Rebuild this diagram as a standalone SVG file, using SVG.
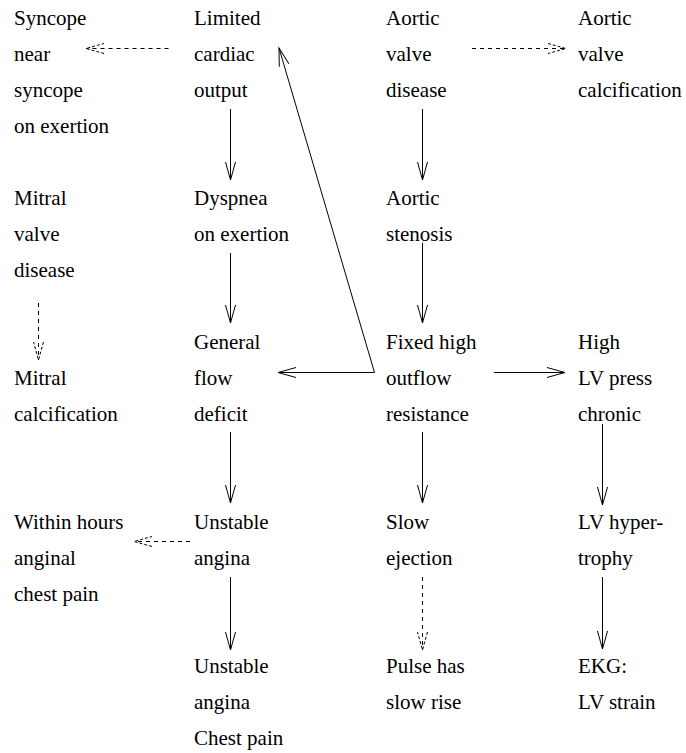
<svg xmlns="http://www.w3.org/2000/svg" width="686" height="753" viewBox="0 0 686 753">
<defs>
<style>
.c{fill:none;stroke:#000;stroke-width:1}
.d{stroke-dasharray:4,4}
</style>
<marker id="ah" markerUnits="userSpaceOnUse" viewBox="-20 -7 22 14" markerWidth="22" markerHeight="14" refX="0" refY="0" orient="auto">
<path d="M-18,-5 L0,0 L-18,5" fill="none" stroke="#000" stroke-width="1"/>
</marker>
<marker id="ahd" markerUnits="userSpaceOnUse" viewBox="-20 -7 22 14" markerWidth="22" markerHeight="14" refX="0" refY="0" orient="auto">
<path d="M-18,-5 L0,0 L-18,5" fill="none" stroke="#000" stroke-width="1" stroke-dasharray="3,2"/>
</marker>
</defs>
<rect width="686" height="753" fill="#fff"/>
<g id="connectors">
<path class="c d" d="M168.5,48.5 H86" marker-end="url(#ahd)"/>
<path class="c d" d="M472,48.5 H566" marker-end="url(#ahd)"/>
<path class="c" d="M230.5,109 V180" marker-end="url(#ah)"/>
<path class="c" d="M422.5,109 V180" marker-end="url(#ah)"/>
<path class="c" d="M230.5,253 V323" marker-end="url(#ah)"/>
<path class="c" d="M422.5,243 V323" marker-end="url(#ah)"/>
<path class="c d" d="M38.5,303 V360" marker-end="url(#ahd)"/>
<path class="c" d="M374.5,372.5 H278" marker-end="url(#ah)"/>
<path class="c" d="M374.5,372.5 L279,48" marker-end="url(#ah)"/>
<path class="c" d="M494,372.5 H565" marker-end="url(#ah)"/>
<path class="c" d="M230.5,432 V503" marker-end="url(#ah)"/>
<path class="c" d="M422.5,432 V503" marker-end="url(#ah)"/>
<path class="c" d="M602.5,424 V505" marker-end="url(#ah)"/>
<path class="c d" d="M190,541.5 H134" marker-end="url(#ahd)"/>
<path class="c" d="M230.5,577 V650" marker-end="url(#ah)"/>
<path class="c d" d="M422.5,577 V650" marker-end="url(#ahd)"/>
<path class="c" d="M602.5,577 V649" marker-end="url(#ah)"/>
</g>
<g transform="scale(0.5)" font-family="'Liberation Serif', 'Times New Roman', serif" font-size="42" fill="#000">
<g id="syncope"><text x="28" y="50">Syncope</text><text x="28" y="122">near</text><text x="28" y="194">syncope</text><text x="28" y="266">on exertion</text></g>
<g id="limited-output"><text x="388" y="50">Limited</text><text x="388" y="122">cardiac</text><text x="388" y="194">output</text></g>
<g id="aortic-valve-disease"><text x="772" y="50">Aortic</text><text x="772" y="122">valve</text><text x="772" y="194">disease</text></g>
<g id="aortic-valve-calcification"><text x="1156" y="50">Aortic</text><text x="1156" y="122">valve</text><text x="1156" y="194">calcification</text></g>
<g id="mitral-valve-disease"><text x="28" y="410">Mitral</text><text x="28" y="482">valve</text><text x="28" y="554">disease</text></g>
<g id="dyspnea"><text x="388" y="410">Dyspnea</text><text x="388" y="482">on exertion</text></g>
<g id="aortic-stenosis"><text x="772" y="410">Aortic</text><text x="772" y="482">stenosis</text></g>
<g id="mitral-calcification"><text x="28" y="770">Mitral</text><text x="28" y="842">calcification</text></g>
<g id="general-flow-deficit"><text x="388" y="698">General</text><text x="388" y="770">flow</text><text x="388" y="842">deficit</text></g>
<g id="fixed-high-resistance"><text x="772" y="698">Fixed high</text><text x="772" y="770">outflow</text><text x="772" y="842">resistance</text></g>
<g id="high-lv-press"><text x="1156" y="698">High</text><text x="1156" y="770">LV press</text><text x="1156" y="842">chronic</text></g>
<g id="within-hours"><text x="28" y="1058">Within hours</text><text x="28" y="1130">anginal</text><text x="28" y="1202">chest pain</text></g>
<g id="unstable-angina"><text x="388" y="1058">Unstable</text><text x="388" y="1130">angina</text></g>
<g id="slow-ejection"><text x="772" y="1058">Slow</text><text x="772" y="1130">ejection</text></g>
<g id="lv-hypertrophy"><text x="1156" y="1058">LV hyper-</text><text x="1156" y="1130">trophy</text></g>
<g id="unstable-angina-chest-pain"><text x="388" y="1346">Unstable</text><text x="388" y="1418">angina</text><text x="388" y="1490">Chest pain</text></g>
<g id="pulse-slow-rise"><text x="772" y="1346">Pulse has</text><text x="772" y="1418">slow rise</text></g>
<g id="ekg-lv-strain"><text x="1156" y="1346">EKG:</text><text x="1156" y="1418">LV strain</text></g>
</g>
</svg>
